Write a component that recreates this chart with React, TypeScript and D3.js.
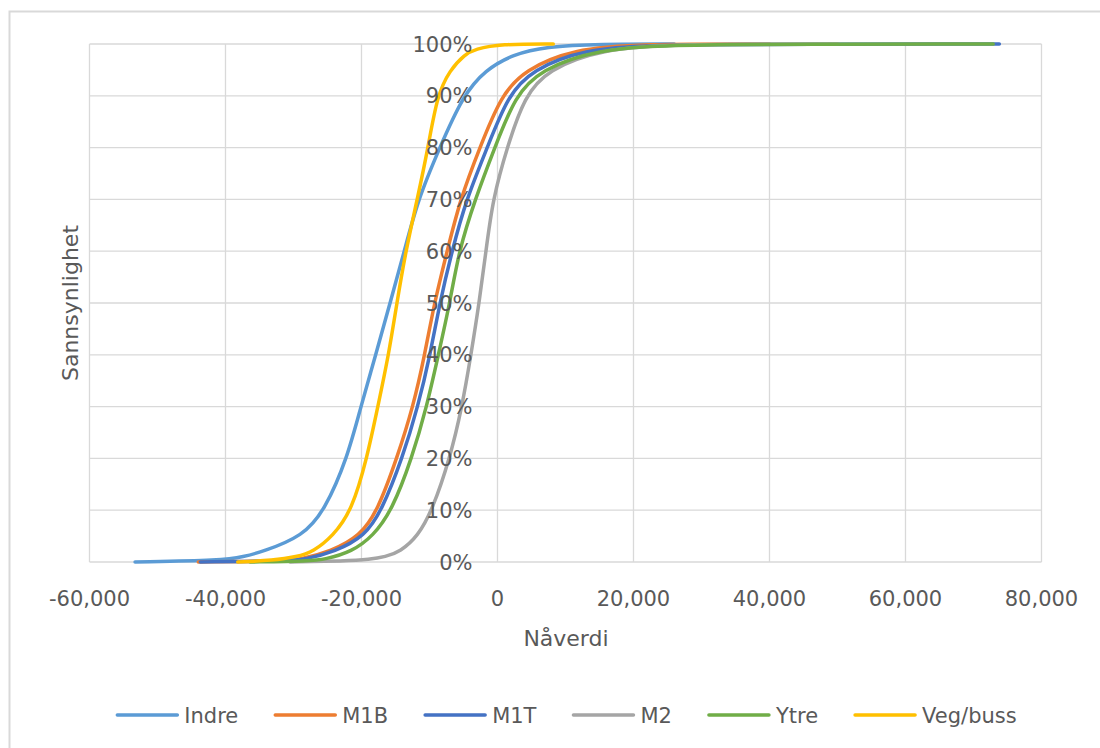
import React, { useMemo } from 'react';
import * as d3 from 'd3';

// Nåverdi (x) vs. cumulative probability (y)
const seriesNames = ['Indre', 'M1B', 'M1T', 'M2', 'Ytre', 'Veg/buss'];
const seriesColors = ['#5B9BD5', '#ED7D31', '#4472C4', '#A5A5A5', '#70AD47', '#FFC000'];

const indreX = [-53300, -40400, -37400, -34500, -28600, -25400, -22100, -20100, -17900, -15800, -13700, -11700, -8500, -5100, -1800, 2300, 7000, 15100, 26000];
const indreP = [0, 0.003, 0.01, 0.02, 0.05, 0.1, 0.2, 0.3, 0.4, 0.5, 0.6, 0.7, 0.8, 0.9, 0.95, 0.98, 0.995, 1, 1];

const m1bX = [-44000, -32000, -29000, -24600, -20200, -17600, -14800, -12400, -10700, -9300, -7400, -5500, -2600, 500, 4000, 11100, 21000, 40000];
const m1bP = [0, 0.002, 0.005, 0.02, 0.05, 0.1, 0.2, 0.3, 0.4, 0.5, 0.6, 0.7, 0.8, 0.9, 0.95, 0.99, 1, 1];

const m1tX = [-43700, -31300, -28300, -23900, -19500, -17000, -14000, -11700, -9900, -8500, -6700, -4600, -1500, 1500, 5100, 12600, 23900, 73800];
const m1tP = [0, 0.002, 0.005, 0.02, 0.05, 0.1, 0.2, 0.3, 0.4, 0.5, 0.6, 0.7, 0.8, 0.9, 0.95, 0.99, 1, 1];

const m2X = [-30500, -22400, -18800, -16500, -14300, -11700, -9600, -7000, -5200, -3900, -2700, -1700, -700, 1400, 4000, 7400, 15100, 26800, 50000];
const m2P = [0, 0.002, 0.005, 0.01, 0.02, 0.05, 0.1, 0.2, 0.3, 0.4, 0.5, 0.6, 0.7, 0.8, 0.9, 0.95, 0.99, 1, 1];

const ytreX = [-36400, -27600, -25400, -21400, -18300, -15500, -12600, -10400, -8700, -7000, -5700, -3300, -400, 2600, 6300, 14600, 26800, 72900];
const ytreP = [0, 0.002, 0.005, 0.02, 0.05, 0.1, 0.2, 0.3, 0.4, 0.5, 0.6, 0.7, 0.8, 0.9, 0.95, 0.99, 1, 1];

const vegX = [-38200, -33000, -29500, -27100, -24200, -21400, -19200, -17600, -16000, -14800, -13500, -11800, -10200, -8900, -7000, -4800, -3300, 400, 8200];
const vegP = [0, 0.003, 0.01, 0.02, 0.05, 0.1, 0.2, 0.3, 0.4, 0.5, 0.6, 0.7, 0.8, 0.9, 0.95, 0.98, 0.99, 1, 1];

const seriesX = [indreX, m1bX, m1tX, m2X, ytreX, vegX];
const seriesP = [indreP, m1bP, m1tP, m2P, ytreP, vegP];

const xTicks = [-60000, -40000, -20000, 0, 20000, 40000, 60000, 80000];
const yTicks = [0, 0.1, 0.2, 0.3, 0.4, 0.5, 0.6, 0.7, 0.8, 0.9, 1];

const FONT = '"DejaVu Sans", sans-serif';
const TEXT = '#595959';
const GRID = '#D9D9D9';

const locale = d3.formatLocale({
  decimal: '.',
  thousands: ',',
  grouping: [3],
  currency: ['', ''],
  minus: '-',
});

export default function App() {
  const x = d3.scaleLinear().domain([-60000, 80000]).range([89.5, 1041.5]);
  const y = d3.scaleLinear().domain([0, 1]).range([562, 44]);
  const fmt = locale.format(',');
  const pct = locale.format('.0%');

  const line = d3
    .line<[number, number]>()
    .x((d) => x(d[0]))
    .y((d) => y(d[1]))
    .curve(d3.curveBasis);

  // legend layout from measured text widths
  const legend = useMemo(() => {
    const ctx = document.createElement('canvas').getContext('2d')!;
    ctx.font = `21px ${FONT}`;
    const lineLen = 60;
    const gap = 7;
    const spacing = 37;
    const widths = seriesNames.map((n) => ctx.measureText(n).width);
    const total = widths.reduce((s, w) => s + lineLen + gap + w, 0) + spacing * (widths.length - 1);
    let cx = 567 - total / 2;
    return widths.map((w) => {
      const start = cx;
      cx += lineLen + gap + w + spacing;
      return { start, textX: start + lineLen + gap };
    });
  }, []);

  return (
    <svg
      width={1100}
      height={748}
      style={{ position: 'absolute', left: 0, top: 0, background: '#fff' }}
      fontFamily={FONT}
    >
      <rect x={9.5} y={11.5} width={1200} height={1000} fill="#fff" stroke={GRID} strokeWidth={2} />

      {/* grid */}
      {yTicks.map((t) => (
        <line key={'h' + t} x1={x(-60000)} x2={x(80000)} y1={y(t)} y2={y(t)} stroke={GRID} strokeWidth={1.3} />
      ))}
      {xTicks.map((t) => (
        <line key={'v' + t} x1={x(t)} x2={x(t)} y1={y(0)} y2={y(1)} stroke={GRID} strokeWidth={1.3} />
      ))}

      {/* series */}
      {seriesNames.map((name, i) => (
        <path
          key={name}
          d={line(seriesX[i].map((v, j) => [v, seriesP[i][j]] as [number, number])) || ''}
          fill="none"
          stroke={seriesColors[i]}
          strokeWidth={3.5}
          strokeLinecap="round"
          strokeLinejoin="round"
        />
      ))}

      {/* y tick labels sit on the x=0 axis */}
      {yTicks.map((t) => (
        <text key={'yl' + t} x={x(0) - 25} y={y(t) + 7.5} textAnchor="end" fontSize={21} fill={TEXT}>
          {pct(t)}
        </text>
      ))}

      {/* x tick labels */}
      {xTicks.map((t) => (
        <text key={'xl' + t} x={x(t)} y={606} textAnchor="middle" fontSize={21} fill={TEXT}>
          {fmt(t)}
        </text>
      ))}

      <text x={566} y={646} textAnchor="middle" fontSize={22} fill={TEXT}>
        Nåverdi
      </text>
      <text transform="translate(78,303) rotate(-90)" textAnchor="middle" fontSize={22} fill={TEXT}>
        Sannsynlighet
      </text>

      {/* legend */}
      {seriesNames.map((name, i) => (
        <g key={'lg' + name}>
          <line
            x1={legend[i].start}
            x2={legend[i].start + 60}
            y1={715}
            y2={715}
            stroke={seriesColors[i]}
            strokeWidth={3.5}
            strokeLinecap="round"
          />
          <text x={legend[i].textX} y={722.5} fontSize={21} fill={TEXT}>
            {name}
          </text>
        </g>
      ))}
    </svg>
  );
}
